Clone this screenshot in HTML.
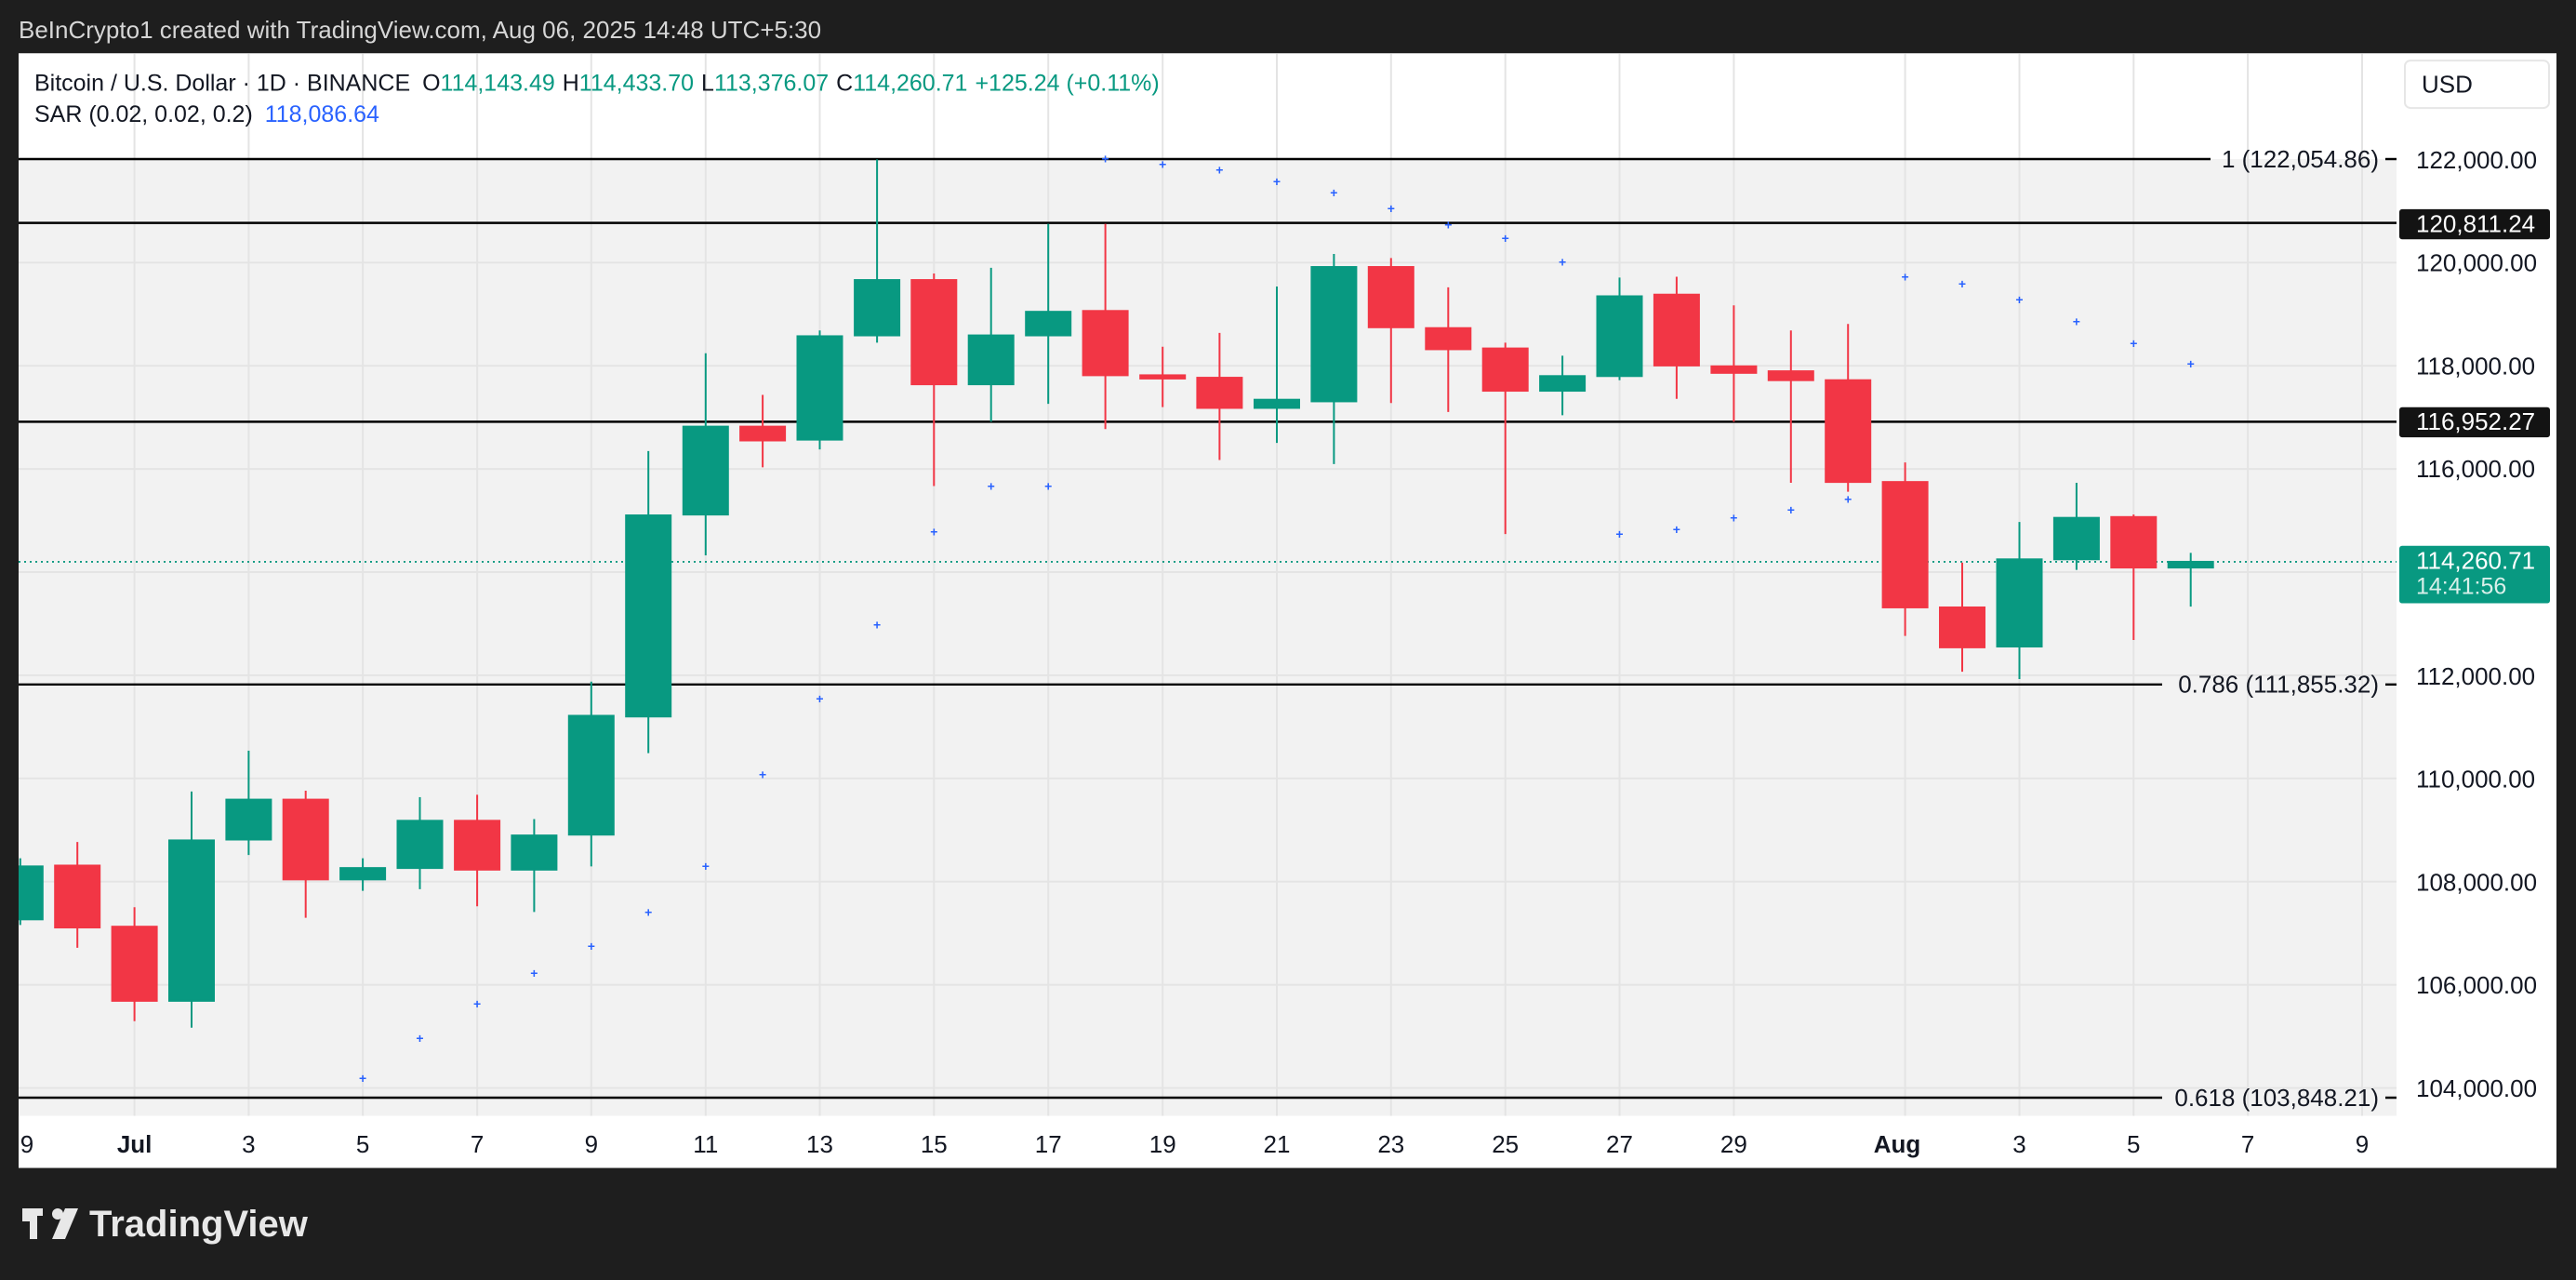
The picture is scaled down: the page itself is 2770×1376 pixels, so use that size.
<!DOCTYPE html>
<html><head><meta charset="utf-8"><style>
html,body{margin:0;padding:0;background:#1e1e1e;}
svg{display:block;font-family:"Liberation Sans",sans-serif;}
</style></head><body>
<svg width="2770" height="1376" viewBox="0 0 2770 1376" xmlns="http://www.w3.org/2000/svg">
<rect x="0" y="0" width="2770" height="1376" fill="#1e1e1e"/>
<text x="20" y="41" font-size="26" fill="#d6d6d6">BeInCrypto1 created with TradingView.com, Aug 06, 2025 14:48 UTC+5:30</text>
<g transform="translate(0,171) scale(1,0.9806) translate(0,-171)">
<rect x="20" y="55" width="2729" height="1222" fill="#ffffff"/>
<defs><clipPath id="pc"><rect x="20" y="55" width="2557" height="1165"/></clipPath></defs>
<g clip-path="url(#pc)">
<rect x="20" y="171" width="2557" height="1049" fill="#f2f2f2"/>
<g stroke="#e4e4e4" stroke-width="2">
<line x1="20" x2="2577" y1="284.5" y2="284.5"/><line x1="20" x2="2577" y1="397.6" y2="397.6"/><line x1="20" x2="2577" y1="510.7" y2="510.7"/><line x1="20" x2="2577" y1="623.8" y2="623.8"/><line x1="20" x2="2577" y1="736.9" y2="736.9"/><line x1="20" x2="2577" y1="850" y2="850"/><line x1="20" x2="2577" y1="963.1" y2="963.1"/><line x1="20" x2="2577" y1="1076.2" y2="1076.2"/><line x1="20" x2="2577" y1="1189.3" y2="1189.3"/>
<line x1="144.6" x2="144.6" y1="55" y2="1220"/><line x1="267.4" x2="267.4" y1="55" y2="1220"/><line x1="390.1" x2="390.1" y1="55" y2="1220"/><line x1="513.1" x2="513.1" y1="55" y2="1220"/><line x1="635.8" x2="635.8" y1="55" y2="1220"/><line x1="758.8" x2="758.8" y1="55" y2="1220"/><line x1="881.5" x2="881.5" y1="55" y2="1220"/><line x1="1004.3" x2="1004.3" y1="55" y2="1220"/><line x1="1127.2" x2="1127.2" y1="55" y2="1220"/><line x1="1250.2" x2="1250.2" y1="55" y2="1220"/><line x1="1373" x2="1373" y1="55" y2="1220"/><line x1="1495.8" x2="1495.8" y1="55" y2="1220"/><line x1="1618.7" x2="1618.7" y1="55" y2="1220"/><line x1="1741.5" x2="1741.5" y1="55" y2="1220"/><line x1="1864.4" x2="1864.4" y1="55" y2="1220"/><line x1="2048.6" x2="2048.6" y1="55" y2="1220"/><line x1="2171.5" x2="2171.5" y1="55" y2="1220"/><line x1="2294.3" x2="2294.3" y1="55" y2="1220"/><line x1="2417.1" x2="2417.1" y1="55" y2="1220"/><line x1="2540" x2="2540" y1="55" y2="1220"/>
</g>
<g stroke="#000" stroke-width="2.5">
<line x1="20" x2="2377" y1="171" y2="171"/>
<line x1="20" x2="2577" y1="241" y2="241"/>
<line x1="20" x2="2577" y1="459" y2="459"/>
<line x1="20" x2="2325" y1="747" y2="747"/>
<line x1="20" x2="2325" y1="1200" y2="1200"/>
<line x1="2565" x2="2577" y1="171" y2="171"/><line x1="2565" x2="2577" y1="747" y2="747"/><line x1="2565" x2="2577" y1="1200" y2="1200"/>
</g>
<g font-size="26" fill="#131722" text-anchor="end">
<text x="2558" y="180">1 (122,054.86)</text>
<text x="2558" y="756">0.786 (111,855.32)</text>
<text x="2558" y="1209">0.618 (103,848.21)</text>
</g>
<line x1="20" x2="2577" y1="612.5" y2="612.5" stroke="#089981" stroke-width="2" stroke-dasharray="2 4"/>
<g stroke="#089981" stroke-width="2" fill="#089981">
<line x1="21.8" x2="21.8" y1="937.5" y2="1010.7"/><rect x="-2.2" y="946.4" width="48" height="58.1"/>
<line x1="206" x2="206" y1="864.3" y2="1123.2"/><rect x="182" y="917.9" width="48" height="175.9"/>
<line x1="267.4" x2="267.4" y1="819.6" y2="933.9"/><rect x="243.4" y="873.2" width="48" height="43.8"/>
<line x1="390.1" x2="390.1" y1="937.5" y2="973.2"/><rect x="366.1" y="948.2" width="48" height="12.5"/>
<line x1="451.5" x2="451.5" y1="870.5" y2="971.4"/><rect x="427.5" y="896.4" width="48" height="51.8"/>
<line x1="574.4" x2="574.4" y1="894.6" y2="996.4"/><rect x="550.4" y="912.5" width="48" height="37.5"/>
<line x1="635.8" x2="635.8" y1="743.8" y2="946.4"/><rect x="611.8" y="781.3" width="48" height="130.3"/>
<line x1="697.2" x2="697.2" y1="491.1" y2="822.3"/><rect x="673.2" y="561.6" width="48" height="220.5"/>
<line x1="758.8" x2="758.8" y1="383.9" y2="605.4"/><rect x="734.8" y="464.3" width="48" height="96.4"/>
<line x1="881.5" x2="881.5" y1="358.9" y2="489.3"/><rect x="857.5" y="365.2" width="48" height="113.4"/>
<line x1="943.1" x2="943.1" y1="171.4" y2="372.3"/><rect x="919.1" y="303.6" width="48" height="60.7"/>
<line x1="1065.7" x2="1065.7" y1="290.2" y2="458.9"/><rect x="1041.7" y="364.3" width="48" height="53.6"/>
<line x1="1127.2" x2="1127.2" y1="242" y2="439.3"/><rect x="1103.2" y="338.4" width="48" height="25.9"/>
<line x1="1373" x2="1373" y1="310.7" y2="482.1"/><rect x="1349" y="434.8" width="48" height="9"/>
<line x1="1434.4" x2="1434.4" y1="275" y2="505.4"/><rect x="1410.4" y="289.3" width="48" height="147.3"/>
<line x1="1680.1" x2="1680.1" y1="386.6" y2="451.8"/><rect x="1656.1" y="408.9" width="48" height="16.1"/>
<line x1="1741.5" x2="1741.5" y1="300.9" y2="413.4"/><rect x="1717.5" y="321.4" width="48" height="87.5"/>
<line x1="2171.5" x2="2171.5" y1="568.8" y2="741.1"/><rect x="2147.5" y="609.8" width="48" height="95.6"/>
<line x1="2232.9" x2="2232.9" y1="525.9" y2="621.4"/><rect x="2208.9" y="564.3" width="48" height="45.5"/>
<line x1="2355.7" x2="2355.7" y1="602.7" y2="661.6"/><rect x="2331.7" y="612.5" width="48" height="6.3"/>
</g>
<g stroke="#f23645" stroke-width="2" fill="#f23645">
<line x1="83.2" x2="83.2" y1="919.6" y2="1035.7"/><rect x="59.2" y="945.5" width="48" height="67.9"/>
<line x1="144.6" x2="144.6" y1="991.1" y2="1116.1"/><rect x="120.6" y="1012.5" width="48" height="81.3"/>
<line x1="328.7" x2="328.7" y1="863.4" y2="1002.7"/><rect x="304.7" y="873.2" width="48" height="87.5"/>
<line x1="513.1" x2="513.1" y1="867.9" y2="990.2"/><rect x="489.1" y="896.4" width="48" height="53.6"/>
<line x1="820.1" x2="820.1" y1="429.5" y2="508.9"/><rect x="796.1" y="464.3" width="48" height="15.2"/>
<line x1="1004.3" x2="1004.3" y1="296.4" y2="529.5"/><rect x="980.3" y="303.6" width="48" height="114.3"/>
<line x1="1188.6" x2="1188.6" y1="242" y2="467"/><rect x="1164.6" y="337.5" width="48" height="70.5"/>
<line x1="1250.2" x2="1250.2" y1="376.8" y2="442.9"/><rect x="1226.2" y="408" width="48" height="3.6"/>
<line x1="1311.4" x2="1311.4" y1="361.6" y2="500.9"/><rect x="1287.4" y="410.7" width="48" height="33.1"/>
<line x1="1495.8" x2="1495.8" y1="279.5" y2="438.4"/><rect x="1471.8" y="289.3" width="48" height="66.1"/>
<line x1="1557.3" x2="1557.3" y1="311.6" y2="448.2"/><rect x="1533.3" y="356.3" width="48" height="23.2"/>
<line x1="1618.7" x2="1618.7" y1="372.3" y2="582.1"/><rect x="1594.7" y="378.6" width="48" height="46.4"/>
<line x1="1802.9" x2="1802.9" y1="300" y2="433.9"/><rect x="1778.9" y="319.6" width="48" height="77.7"/>
<line x1="1864.4" x2="1864.4" y1="331.3" y2="458.9"/><rect x="1840.4" y="398.2" width="48" height="7.2"/>
<line x1="1925.8" x2="1925.8" y1="358.9" y2="525.9"/><rect x="1901.8" y="403.6" width="48" height="9.8"/>
<line x1="1987.2" x2="1987.2" y1="351.8" y2="535.7"/><rect x="1963.2" y="413.4" width="48" height="111.6"/>
<line x1="2048.6" x2="2048.6" y1="503.6" y2="693.8"/><rect x="2024.6" y="525" width="48" height="137.5"/>
<line x1="2110" x2="2110" y1="613.4" y2="733"/><rect x="2086" y="662.5" width="48" height="43.8"/>
<line x1="2294.3" x2="2294.3" y1="560.7" y2="698.2"/><rect x="2270.3" y="563.4" width="48" height="55.4"/>
</g>
<g font-size="14" font-weight="bold" fill="#2962ff" text-anchor="middle">
<text x="390.1" y="1183.6">+</text><text x="451.5" y="1139.8">+</text><text x="513.1" y="1102.3">+</text><text x="574.4" y="1068.4">+</text><text x="635.8" y="1038.9">+</text><text x="697.2" y="1001.4">+</text><text x="758.8" y="951.4">+</text><text x="820.1" y="850.5">+</text><text x="881.5" y="767.5">+</text><text x="943.1" y="686.3">+</text><text x="1004.3" y="584.5">+</text><text x="1065.7" y="534.5">+</text><text x="1127.2" y="534.5">+</text><text x="1188.6" y="175.5">+</text><text x="1250.2" y="181.8">+</text><text x="1311.4" y="188">+</text><text x="1373" y="200.5">+</text><text x="1434.4" y="213">+</text><text x="1495.8" y="230">+</text><text x="1557.3" y="247.9">+</text><text x="1618.7" y="263">+</text><text x="1680.1" y="289">+</text><text x="1741.5" y="587.1">+</text><text x="1802.9" y="581.8">+</text><text x="1864.4" y="569.3">+</text><text x="1925.8" y="560.4">+</text><text x="1987.2" y="548.8">+</text><text x="2048.6" y="305">+</text><text x="2110" y="313">+</text><text x="2171.5" y="330">+</text><text x="2232.9" y="354.1">+</text><text x="2294.3" y="378.2">+</text><text x="2355.7" y="400.5">+</text>
</g>
</g>
<text x="37" y="96" font-size="25" fill="#131722">Bitcoin / U.S. Dollar · 1D · BINANCE <tspan dx="6">O</tspan><tspan fill="#089981">114,143.49</tspan><tspan dx="8">H</tspan><tspan fill="#089981">114,433.70</tspan><tspan dx="8">L</tspan><tspan fill="#089981">113,376.07</tspan><tspan dx="8">C</tspan><tspan fill="#089981">114,260.71</tspan><tspan dx="8" fill="#089981">+125.24 (+0.11%)</tspan></text>
<text x="37" y="130" font-size="25" fill="#131722">SAR (0.02, 0.02, 0.2) <tspan dx="6" fill="#2962ff">118,086.64</tspan></text>
<rect x="2586" y="63" width="155" height="52" rx="6" fill="#fff" stroke="#e6e6e6" stroke-width="2"/>
<text x="2604" y="98" font-size="26" fill="#131722">USD</text>
<g font-size="26" fill="#131722">
<text x="2598" y="181">122,000.00</text><text x="2598" y="294">120,000.00</text><text x="2598" y="407">118,000.00</text><text x="2598" y="520">116,000.00</text><text x="2598" y="747">112,000.00</text><text x="2598" y="860">110,000.00</text><text x="2598" y="973">108,000.00</text><text x="2598" y="1086">106,000.00</text><text x="2598" y="1199">104,000.00</text>
</g>
<rect x="2580" y="226" width="162" height="33" rx="3" fill="#131313"/><text x="2598" y="251" font-size="26" fill="#fff">120,811.24</text>
<rect x="2580" y="443" width="162" height="33" rx="3" fill="#131313"/><text x="2598" y="468" font-size="26" fill="#fff">116,952.27</text>
<rect x="2580" y="595" width="162" height="63" rx="3" fill="#089981"/><text x="2598" y="620" font-size="26" fill="#fff">114,260.71</text><text x="2598" y="648" font-size="25" fill="#d8f0ea">14:41:56</text>
<g font-size="26" fill="#131722" text-anchor="middle">
<text x="29" y="1260">9</text><text x="144.6" y="1260" font-weight="bold">Jul</text><text x="267.4" y="1260">3</text><text x="390.1" y="1260">5</text><text x="513.1" y="1260">7</text><text x="635.8" y="1260">9</text><text x="758.8" y="1260">11</text><text x="881.5" y="1260">13</text><text x="1004.3" y="1260">15</text><text x="1127.2" y="1260">17</text><text x="1250.2" y="1260">19</text><text x="1373" y="1260">21</text><text x="1495.8" y="1260">23</text><text x="1618.7" y="1260">25</text><text x="1741.5" y="1260">27</text><text x="1864.4" y="1260">29</text><text x="2040" y="1260" font-weight="bold">Aug</text><text x="2171.5" y="1260">3</text><text x="2294.3" y="1260">5</text><text x="2417.1" y="1260">7</text><text x="2540" y="1260">9</text>
</g>
</g>
<g transform="translate(0,-23)">
<g fill="#e8e8e8">
<rect x="24" y="1322" width="22" height="8"/><rect x="32" y="1322" width="8" height="33"/><rect x="24" y="1322" width="8" height="14"/>
<circle cx="62" cy="1328" r="6"/><polygon points="70,1322 84,1322 70,1355 56,1355"/>
</g>
<text x="96" y="1352" font-size="40" font-weight="bold" fill="#e8e8e8">TradingView</text>
</g>
</svg>
</body></html>
